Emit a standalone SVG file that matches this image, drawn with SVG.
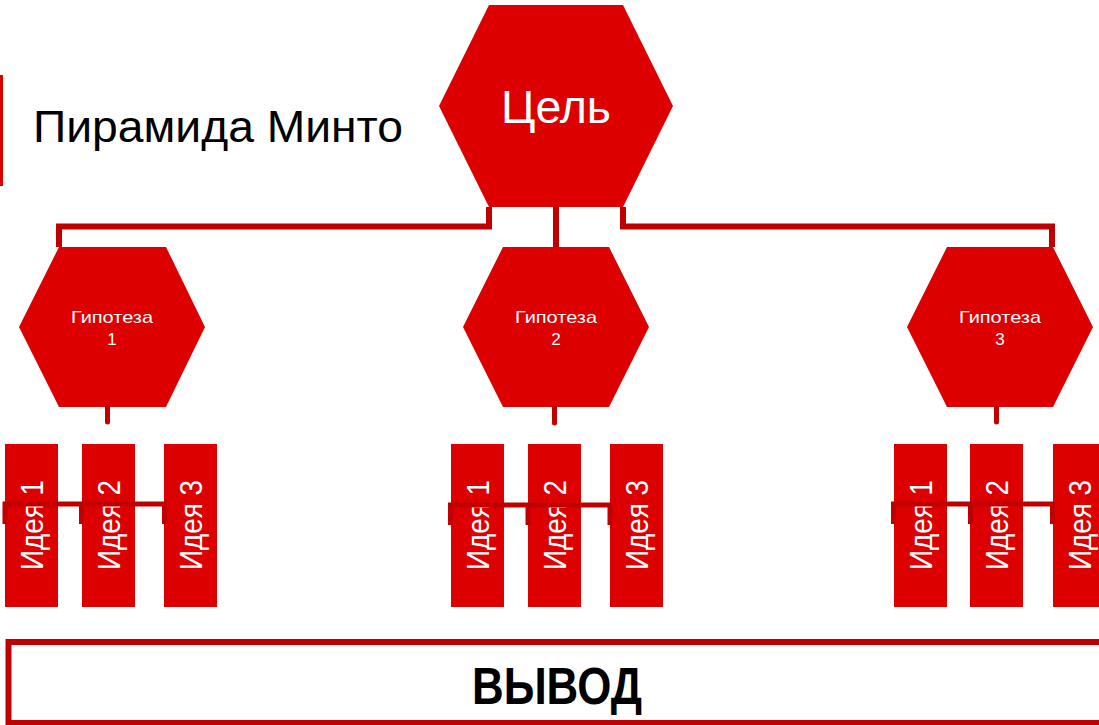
<svg xmlns="http://www.w3.org/2000/svg" width="1099" height="725" viewBox="0 0 1099 725">
<style>
.hex{fill:#DD0000}
.box{fill:#DD0000}
.conn{fill:none;stroke:#C00000;stroke-width:6;stroke-linejoin:miter}
.br{fill:none;stroke:#C00000;stroke-width:5}
.stub{stroke:#C00000;stroke-width:5;stroke-linecap:round}
.w{fill:#ffffff;font-family:"Liberation Sans",Arial,sans-serif}
.hyp{font-size:17px;text-anchor:middle}
.idea{font-size:31px;text-anchor:middle}
</style>
<rect width="1099" height="725" fill="#ffffff"/>
<g id="title">
<rect x="0" y="75" width="3" height="111" fill="#DD0000"/>
<text x="33" y="142" font-family="Liberation Sans, Arial, sans-serif" font-size="44" fill="#000" textLength="370" lengthAdjust="spacingAndGlyphs">Пирамида Минто</text>
</g>
<g id="goal">
<polygon class="hex" points="489,5 623,5 673,106 623,207 489,207 439,106"/>
<text class="w" x="556" y="123" font-size="46" text-anchor="middle" textLength="110" lengthAdjust="spacingAndGlyphs">Цель</text>
</g>
<g id="hyp1">
<polygon class="hex" points="59,247 166,247 205,327 166,407 59,407 19,327"/>
<text class="w hyp" x="112" y="323" textLength="82" lengthAdjust="spacingAndGlyphs">Гипотеза</text>
<text class="w hyp" x="112" y="345">1</text>
</g>
<g id="hyp2">
<polygon class="hex" points="503,247 609,247 649,327 609,407 503,407 463,327"/>
<text class="w hyp" x="556" y="323" textLength="82" lengthAdjust="spacingAndGlyphs">Гипотеза</text>
<text class="w hyp" x="556" y="345">2</text>
</g>
<g id="hyp3">
<polygon class="hex" points="947,247 1053,247 1093,327 1053,407 947,407 907,327"/>
<text class="w hyp" x="1000" y="323" textLength="82" lengthAdjust="spacingAndGlyphs">Гипотеза</text>
<text class="w hyp" x="1000" y="345">3</text>
</g>
<g id="idea-1-1"><rect class="box" x="5" y="444" width="53" height="163"/><text class="w idea" transform="translate(43,525) rotate(-90)" textLength="90" lengthAdjust="spacingAndGlyphs">Идея 1</text></g>
<g id="idea-1-2"><rect class="box" x="82" y="444" width="53" height="163"/><text class="w idea" transform="translate(120,525) rotate(-90)" textLength="90" lengthAdjust="spacingAndGlyphs">Идея 2</text></g>
<g id="idea-1-3"><rect class="box" x="164" y="444" width="53" height="163"/><text class="w idea" transform="translate(202,525) rotate(-90)" textLength="90" lengthAdjust="spacingAndGlyphs">Идея 3</text></g>
<g id="idea-2-1"><rect class="box" x="451" y="444" width="53" height="163"/><text class="w idea" transform="translate(489,525) rotate(-90)" textLength="90" lengthAdjust="spacingAndGlyphs">Идея 1</text></g>
<g id="idea-2-2"><rect class="box" x="528" y="444" width="53" height="163"/><text class="w idea" transform="translate(566,525) rotate(-90)" textLength="90" lengthAdjust="spacingAndGlyphs">Идея 2</text></g>
<g id="idea-2-3"><rect class="box" x="610" y="444" width="53" height="163"/><text class="w idea" transform="translate(648,525) rotate(-90)" textLength="90" lengthAdjust="spacingAndGlyphs">Идея 3</text></g>
<g id="idea-3-1"><rect class="box" x="894" y="444" width="53" height="163"/><text class="w idea" transform="translate(932,525) rotate(-90)" textLength="90" lengthAdjust="spacingAndGlyphs">Идея 1</text></g>
<g id="idea-3-2"><rect class="box" x="970" y="444" width="53" height="163"/><text class="w idea" transform="translate(1008,525) rotate(-90)" textLength="90" lengthAdjust="spacingAndGlyphs">Идея 2</text></g>
<g id="idea-3-3"><rect class="box" x="1053" y="444" width="53" height="163"/><text class="w idea" transform="translate(1091,525) rotate(-90)" textLength="90" lengthAdjust="spacingAndGlyphs">Идея 3</text></g>
<g id="connectors">
<path class="conn" d="M489,207 V226.5 H59 V247"/>
<path class="conn" d="M556,207 V247"/>
<path class="conn" d="M623,207 V226.5 H1052 V247"/>
<line class="stub" x1="107.5" y1="407" x2="107.5" y2="422"/>
<line class="stub" x1="554.5" y1="407" x2="554.5" y2="423"/>
<line class="stub" x1="996.5" y1="407" x2="996.5" y2="422"/>
<path class="br" d="M5,524 V504 H164.5 V524 M81.5,504 V524"/>
<path class="br" d="M450.5,525 V505 H610 V525 M528,505 V525"/>
<path class="br" d="M893.5,524 V504 H1052.5 V524 M970.5,504 V524"/>
</g>
<g id="conclusion">
<rect x="8.5" y="642" width="1200" height="81" fill="#ffffff" stroke="#C00000" stroke-width="6"/>
<text x="557" y="704" font-family="Liberation Sans, Arial, sans-serif" font-weight="bold" font-size="52" text-anchor="middle" fill="#000" textLength="170" lengthAdjust="spacingAndGlyphs">ВЫВОД</text>
</g>
</svg>
